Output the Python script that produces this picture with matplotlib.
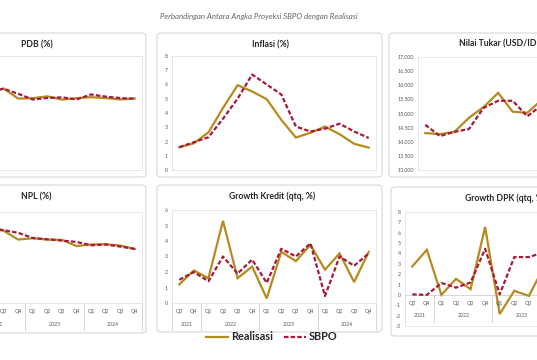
import matplotlib
matplotlib.use('Agg')
import matplotlib.pyplot as plt
from matplotlib.patches import FancyBboxPatch

# quarters Q3 2021 .. Q4 2024
quarters = ['Q3', 'Q4', 'Q1', 'Q2', 'Q3', 'Q4', 'Q1', 'Q2', 'Q3', 'Q4', 'Q1', 'Q2', 'Q3', 'Q4']
years = ['2021', '2022', '2023', '2024']
year_centers = [0.5, 3.5, 7.5, 11.5]
year_bounds = [-0.5, 1.5, 5.5, 9.5, 13.5]

pdb_real = [3.51, 5.02, 5.01, 5.44, 5.72, 5.01, 5.04, 5.17, 4.94, 5.04, 5.11, 5.05, 4.95, 5.02]
pdb_sbpo = [3.7, 4.9, 5.1, 5.5, 5.7, 5.35, 4.95, 5.05, 5.1, 4.95, 5.3, 5.15, 5.05, 5.0]

inflasi_real = [1.6, 1.87, 2.64, 4.35, 5.95, 5.51, 4.97, 3.52, 2.28, 2.61, 3.05, 2.51, 1.84, 1.57]
inflasi_sbpo = [1.6, 1.95, 2.3, 3.6, 5.0, 6.7, 6.0, 5.3, 3.05, 2.7, 2.9, 3.25, 2.7, 2.25]

kurs_real = [14307, 14269, 14349, 14848, 15228, 15731, 15062, 15026, 15487, 15416, 15873, 16421, 15138, 16162]
kurs_sbpo = [14600, 14200, 14350, 14450, 15200, 15450, 15450, 14900, 15300, 15300, 15500, 15800, 15900, 16000]

npl_real = [3.22, 3.00, 3.02, 2.86, 2.78, 2.44, 2.49, 2.44, 2.43, 2.19, 2.25, 2.26, 2.21, 2.08]
npl_sbpo = [3.2, 3.05, 3.0, 2.9, 2.8, 2.7, 2.5, 2.45, 2.4, 2.35, 2.22, 2.25, 2.17, 2.08]

kredit_real = [1.2, 2.1, 1.6, 5.3, 1.6, 2.35, 0.3, 3.3, 2.7, 3.75, 2.15, 3.2, 1.35, 3.3]
kredit_sbpo = [1.5, 2.0, 1.4, 3.0, 1.9, 2.8, 1.3, 3.5, 3.0, 3.85, 0.45, 3.0, 2.4, 3.2]

dpk_real = [2.75, 4.35, 0.0, 1.55, 0.55, 6.55, -1.85, 0.4, -0.1, 2.6, 1.5, 3.0, 2.0, 4.2]
dpk_sbpo = [0.05, 0.0, 1.15, 0.7, 1.2, 4.45, 0.05, 3.65, 3.65, 4.1, 3.5, 3.2, 3.0, 3.5]

W, H = 537, 360
GOLD = '#B58A1E'
RED = '#A8193A'
GRID = '#e2e2e2'
TXT = '#595959'

plt.rcParams['font.family'] = ['Lato', 'DejaVu Sans']

fig = plt.figure(figsize=(W / 100, H / 100), dpi=100)


def frac(x0, y0, x1, y1):
    return [x0 / W, 1 - y1 / H, (x1 - x0) / W, (y1 - y0) / H]


def panel(box, area, title, title_x, title_y, real, sbpo, ylim, yticks=None,
          ylabels=None, axis_val=None):
    x0, y0, x1, y1 = box
    fig.patches.append(FancyBboxPatch(
        (x0 / W, 1 - y1 / H), (x1 - x0) / W, (y1 - y0) / H,
        boxstyle='round,pad=0,rounding_size=0.008', transform=fig.transFigure,
        fc='white', ec='#d6d6d6', lw=0.8, zorder=-5))
    fig.text(title_x / W, 1 - title_y / H, title, ha='center', va='center',
             fontsize=6.2, fontweight='bold', color='#262626')

    ax = fig.add_axes(frac(*area))
    ax.set_zorder(2)
    ax.set_facecolor('none')
    x = range(len(real))
    ax.plot(x, real, color=GOLD, lw=1.6, solid_joinstyle='miter')
    ax.plot(x, sbpo, color=RED, lw=1.6, linestyle=(0, (2, 1)))
    ax.set_xlim(-0.5, 13.5)
    ax.set_ylim(*ylim)
    if yticks is None:
        ax.set_yticks([])
    else:
        ax.set_yticks(yticks, ylabels)
    ax.set_xticks([])
    ax.tick_params(axis='y', length=0, labelsize=3.8, labelcolor=TXT, pad=3)
    for s in ax.spines.values():
        s.set_color(GRID)
        s.set_linewidth(0.6)

    if axis_val is not None:
        # category axis with two label rows; skip labels that fall outside the picture
        unit_px = (area[3] - area[1]) / (ylim[1] - ylim[0])
        cat_px = (area[2] - area[0]) / 14

        def visible(c):
            px = area[0] + (c + 0.5) * cat_px
            return -8 < px < W - 2

        ax.axhline(axis_val, color='#d0d0d0', lw=0.6, zorder=0)
        for i, q in enumerate(quarters):
            if visible(i):
                ax.text(i, axis_val - 8.5 / unit_px, q, ha='center', va='center',
                        fontsize=3.8, color=TXT, clip_on=False)
        for c, yr in zip(year_centers, years):
            if visible(c):
                ax.text(c, axis_val - 21 / unit_px, yr, ha='center', va='center',
                        fontsize=3.8, color=TXT, clip_on=False)
        for b in year_bounds:
            ax.plot([b, b], [axis_val, axis_val - 27 / unit_px], color='#d0d0d0',
                    lw=0.6, clip_on=False)
    return ax


def fmt_kurs(v):
    return f'{v:,.0f}'.replace(',', '.')


# top row (left panels have their value axis outside the picture)
panel((-85, 33, 146, 177), (-62, 56, 142, 170), 'PDB (%)', 37, 45,
      pdb_real, pdb_sbpo, (0, 8))
panel((157, 33, 382, 177), (172, 56, 376, 170), 'Inflasi (%)', 270, 45,
      inflasi_real, inflasi_sbpo, (0, 8), range(0, 9), [str(v) for v in range(0, 9)])
kurs_ticks = list(range(13000, 17001, 500))
panel((389, 33, 625, 177), (418, 57, 622, 170), 'Nilai Tukar (USD/IDR)', 502, 44,
      kurs_real, kurs_sbpo, (13000, 17000), kurs_ticks, [fmt_kurs(v) for v in kurs_ticks])

# bottom row
panel((-85, 185, 146, 333), (-62, 212, 142, 303), 'NPL (%)', 36, 197,
      npl_real, npl_sbpo, (0, 3.5), axis_val=0)
panel((157, 185, 382, 332), (172, 210, 376, 303), 'Growth Kredit (qtq, %)', 272, 196,
      kredit_real, kredit_sbpo, (0, 6), range(0, 7), [str(v) for v in range(0, 7)], axis_val=0)
panel((391, 187, 625, 336), (405, 212, 609, 326), 'Growth DPK (qtq, %)', 505, 198,
      dpk_real, dpk_sbpo, (-3, 8), range(-3, 9), [str(v) for v in range(-3, 9)], axis_val=0)

fig.text(259 / W, 1 - 16 / H, 'Perbandingan Antara Angka Proyeksi SBPO dengan Realisasi',
         ha='center', va='center', fontsize=5.7, style='italic', color='#666666')

handles = [plt.Line2D([], [], color=GOLD, lw=1.6),
           plt.Line2D([], [], color=RED, lw=1.6, linestyle=(0, (2, 1)))]
fig.legend(handles, ['Realisasi', 'SBPO'], loc='center', ncol=2,
           bbox_to_anchor=(272 / W, 1 - 337 / H), frameon=False,
           prop={'weight': 'bold', 'size': 7.8}, handlelength=2.0, handletextpad=0.3,
           columnspacing=1.0, labelcolor='#262626')

fig.savefig('out.png', dpi=100)
